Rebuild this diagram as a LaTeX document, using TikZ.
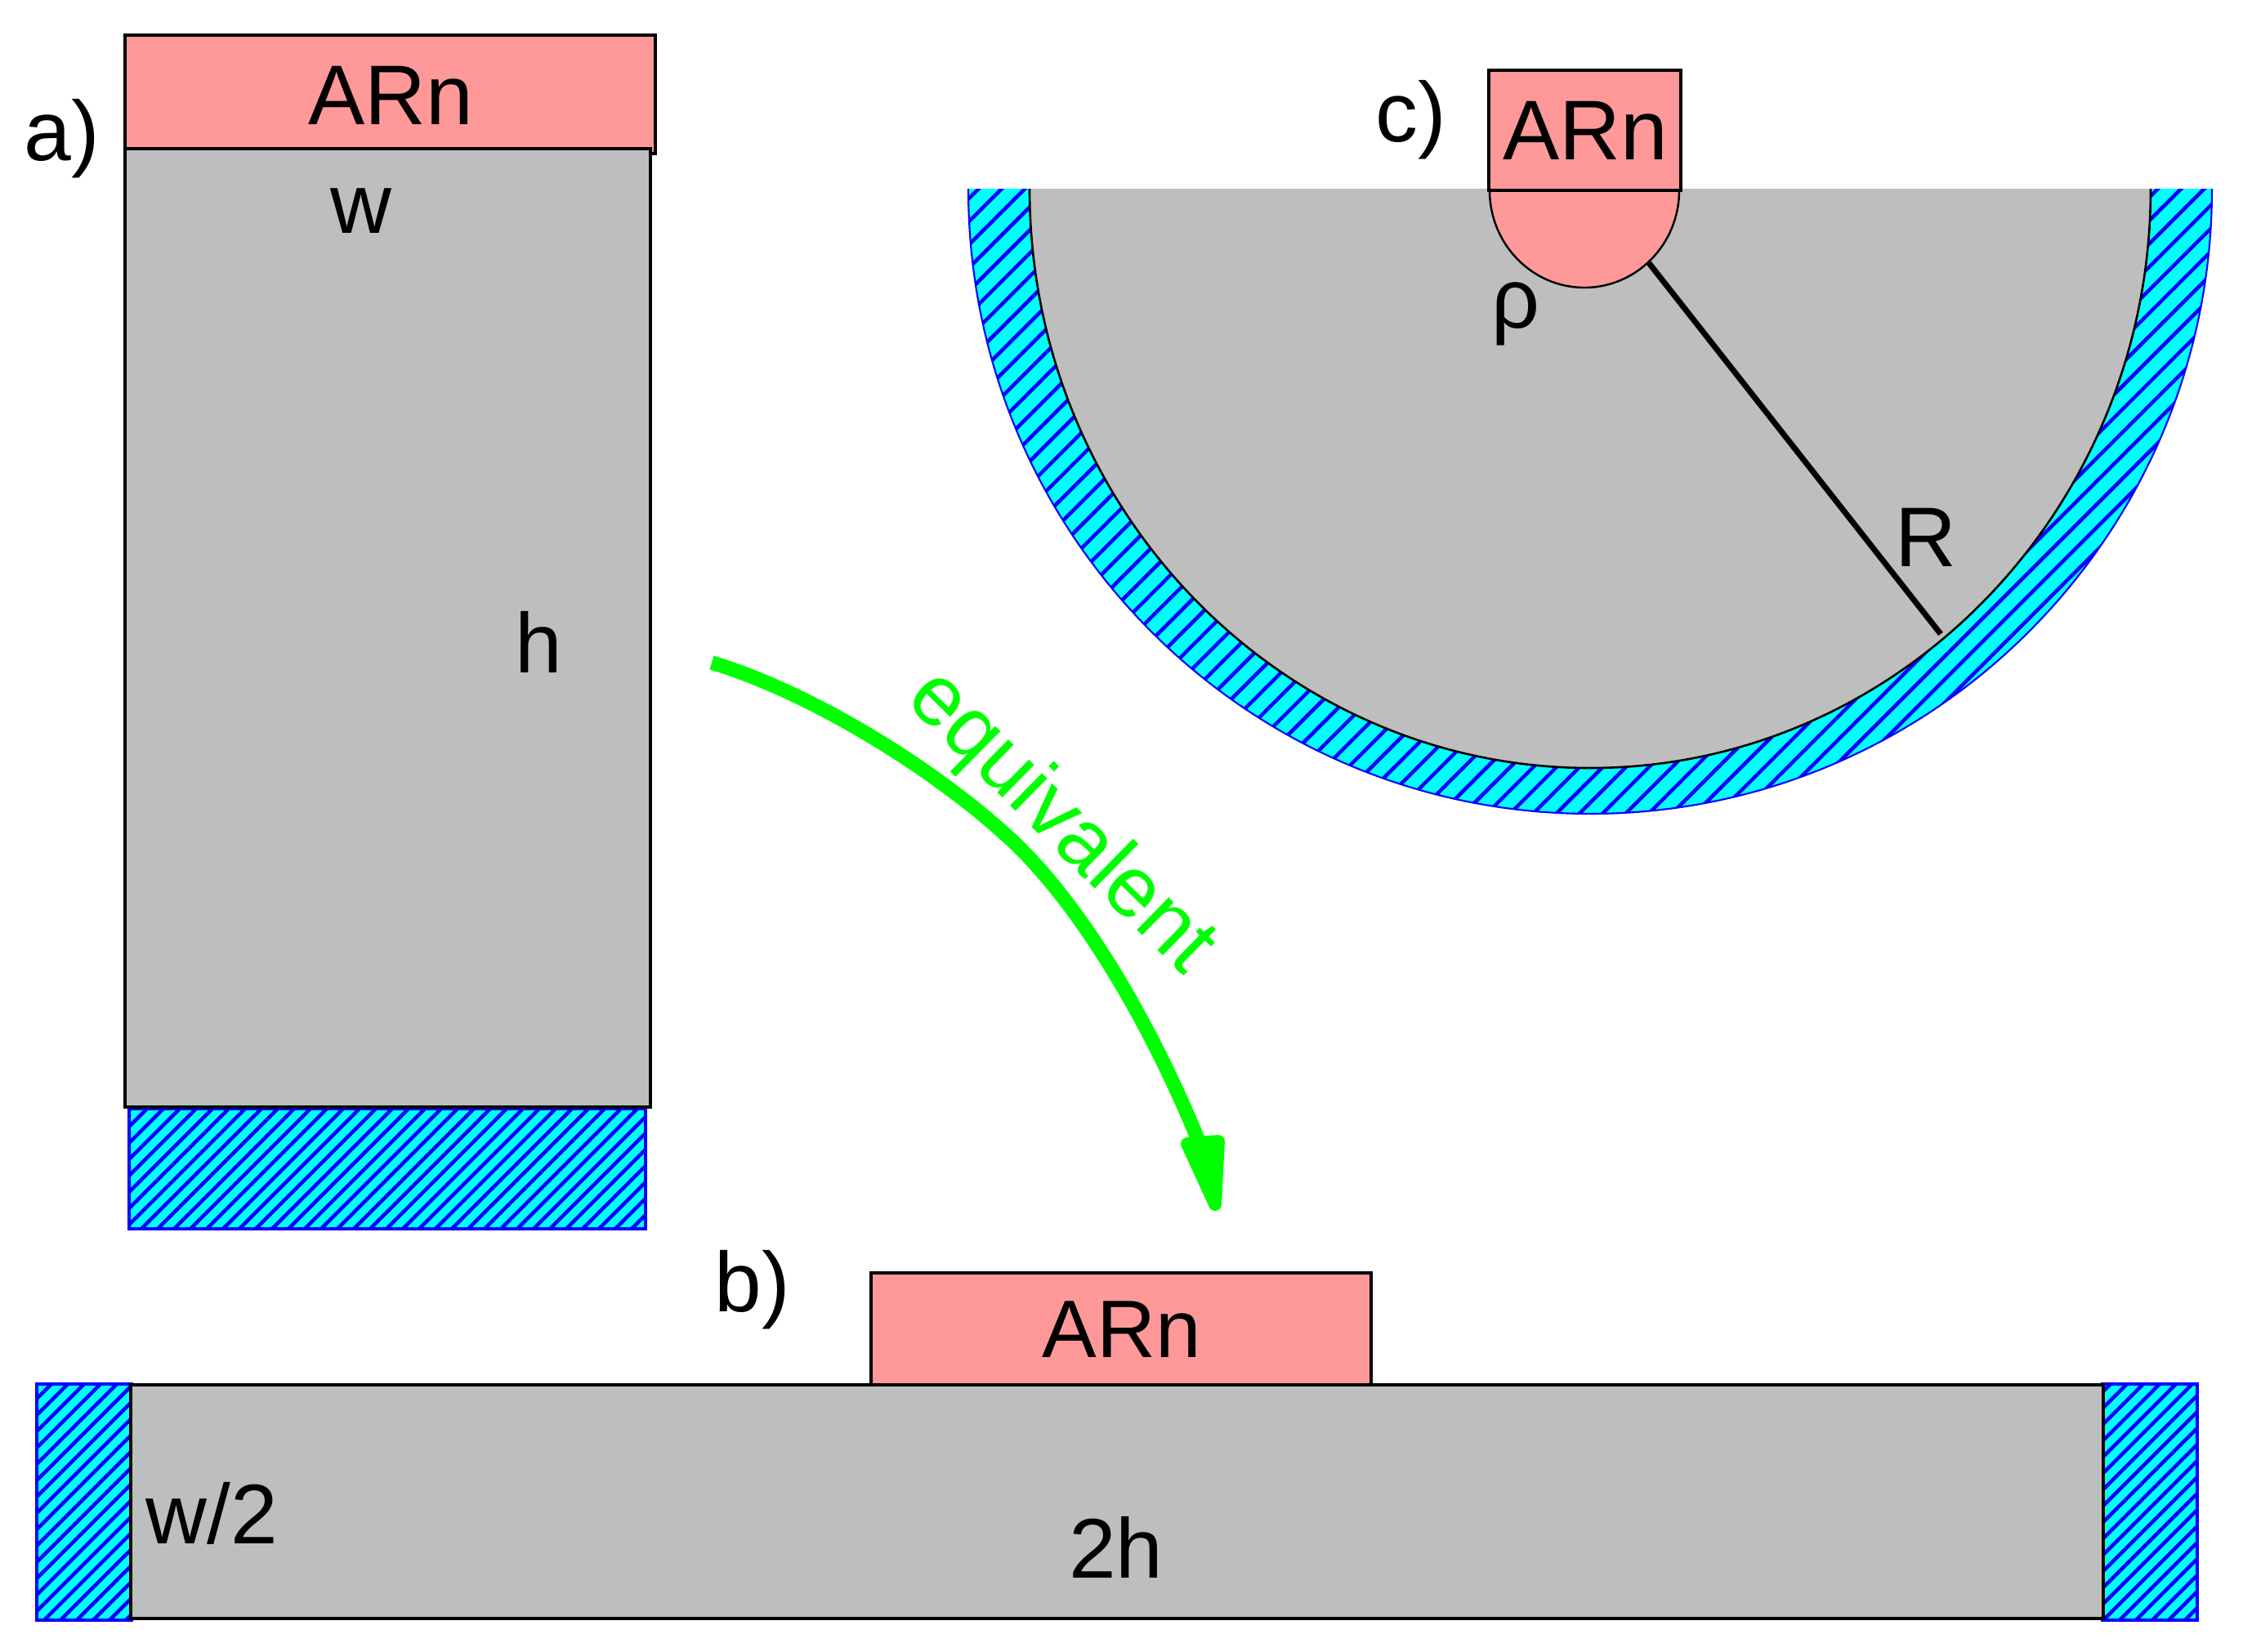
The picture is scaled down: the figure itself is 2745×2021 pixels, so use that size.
\documentclass[tikz,border=0pt]{standalone}
\usepackage{fontspec}
\setmainfont{Liberation Sans}
\definecolor{pinkfill}{HTML}{FF9999}
\definecolor{grayfill}{HTML}{BEBEBE}
\definecolor{arrowgreen}{HTML}{00FF00}
\definecolor{hatchfill}{HTML}{00FFFF}
\definecolor{hatchblue}{HTML}{0000FF}
\tikzset{
    label text/.style={anchor=base,inner sep=0pt,font=\fontsize{29.5}{36}\selectfont},
    graybox/.style={draw=black,fill=grayfill,line width=1.1pt},
    arnbox/.style={draw=black,fill=pinkfill,line width=1.1pt},
    hatchedge/.style={draw=hatchblue,line width=1pt},
    hatchline/.style={draw=hatchblue,line width=0.45mm},
}
\begin{document}
\begin{tikzpicture}[x=0.1mm,y=0.1mm]
    \useasboundingbox (0,0) rectangle (2745,-2021);
    % the three hatched bars
    \begin{scope}
        \clip (158,-1357) rectangle (790,-1504)
              (45,-1694) rectangle (161,-1983)
              (2573,-1694) rectangle (2689,-1983);
        \fill[hatchfill] (0,-1300) rectangle (2745,-2021);
        \foreach \c in {-4677,-4657,...,-1517}
            \draw[hatchline] (0,\c) -- (2745,\c+2745);
    \end{scope}
    \draw[hatchedge] (158,-1357) rectangle (790,-1504);
    \draw[hatchedge] (45,-1694) rectangle (161,-1983);
    \draw[hatchedge] (2573,-1694) rectangle (2689,-1983);
    % a)
    \begin{scope}
        \draw[arnbox] (153,-43) rectangle (802,-188);
        \draw[graybox] (153,-182) rectangle (796,-1355);
    \end{scope}
    % b)
    \begin{scope}
        \draw[graybox] (160,-1695) rectangle (2574,-1981);
        \draw[arnbox] (1066,-1558) rectangle (1678,-1695);
    \end{scope}
    % c)
    \begin{scope}
        \begin{scope}
            \clip (1185,-231) arc[start angle=180,end angle=360,x radius=761,y radius=765] -- cycle;
            \fill[hatchfill] (1150,-200) rectangle (2745,-1020);
            \foreach \c in {-3268.2,-3239.9,...,-1400}
                \draw[hatchline] (0,\c) -- (2745,\c+2745);
        \end{scope}
        \draw[draw=hatchblue,line width=0.6pt] (1185,-231) arc[start angle=180,end angle=360,x radius=761,y radius=765];
        \filldraw[draw=black,fill=grayfill,line width=0.75pt] (1260,-231) arc[start angle=180,end angle=360,x radius=686,y radius=709];
        \filldraw[draw=black,fill=pinkfill,line width=0.7pt] (1823,-233) arc[start angle=180,end angle=360,x radius=116,y radius=119];
        \draw[arnbox] (1822,-86) rectangle (2057,-233);
        \coordinate (radiusin) at (2018,-322);
        \coordinate (radiusout) at (2375,-776);
        \draw[black,line width=2pt] (radiusin) -- (radiusout);
    \end{scope}
    \begin{scope}[every node/.style={label text}]
        \node (labela) at (76,-196) {a)};
        \node (arna) at (478,-152) {ARn};
        \node (labelw) at (442,-285) {w};
        \node (labelh) at (659,-823) {h};
        \node (labelb) at (921,-1605) {b)};
        \node[font=\fontsize{28.4}{36}\selectfont] (arnb) at (1373,-1661) {ARn};
        \node (labelhalf) at (259,-1889) {w/2};
        \node (labeltwo) at (1366,-1931) {2h};
        \node (labelc) at (1727,-173) {c)};
        \node (arnc) at (1940,-195) {ARn};
        \node (labelrho) at (1855,-401) {ρ};
        \node (labelr) at (2357,-693) {R};
        \node[text=arrowgreen,rotate=-44.5,anchor=base west,font=\fontsize{30}{36}\selectfont] (labeleq) at (1106,-858) {equivalent};
    \end{scope}
    % green arrow
    \coordinate (arrowfrom) at (871,-811);
    \coordinate (arrowbend) at (1243,-1033);
    \coordinate (arrowto) at (1467,-1397);
    \draw[arrowgreen,line width=5pt] (arrowfrom) .. controls (1000,-850) and (1155,-949) .. (arrowbend)
        .. controls (1330,-1117) and (1412,-1262) .. (arrowto);
    \filldraw[arrowgreen,line width=4.5pt,line join=round] (1453,-1400) -- (1491,-1397) -- (1487,-1474) -- cycle;
\end{tikzpicture}
\end{document}
